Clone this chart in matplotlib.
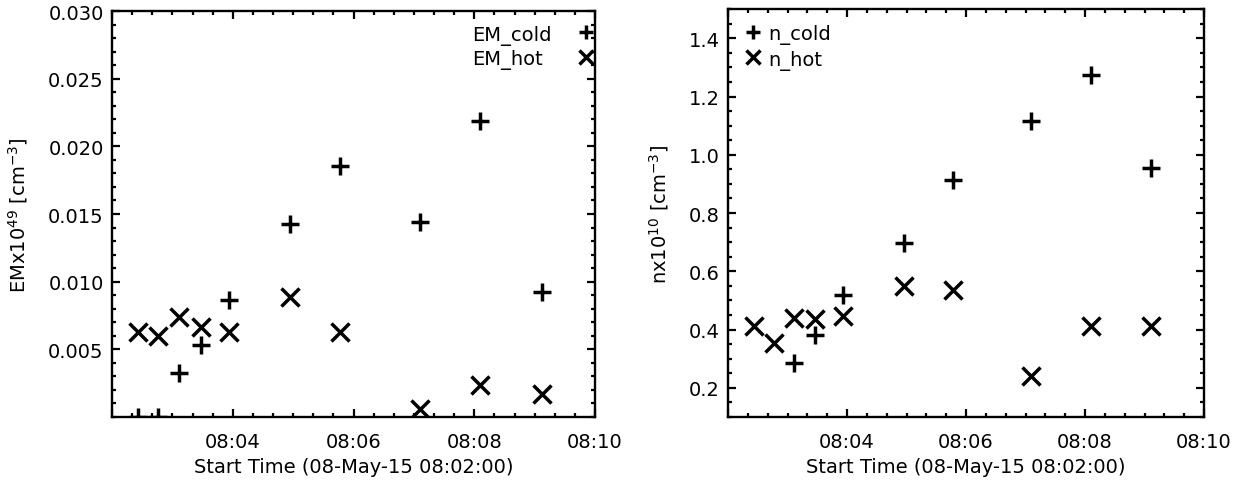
import numpy as np
import matplotlib
matplotlib.use('Agg')
import matplotlib.pyplot as plt
from matplotlib.ticker import MultipleLocator, FixedLocator, FuncFormatter

plt.rcParams['font.family'] = ['DejaVu Sans']

# seconds after 08:02:00
t_sec = [26, 46, 67, 88, 116, 177, 227, 306, 366, 427]

em_cold = [0.0, 0.0, 0.00327, 0.00529, 0.00861, 0.01426, 0.01857, 0.01439, 0.02189, 0.00927]
em_hot = [0.00627, 0.00602, 0.00738, 0.00664, 0.00627, 0.00885, 0.00627, 0.00061, 0.00234, 0.00172]

n_cold = [0.0, 0.0, 0.285, 0.383, 0.520, 0.697, 0.914, 1.115, 1.275, 0.954]
n_hot = [0.411, 0.354, 0.440, 0.436, 0.448, 0.548, 0.537, 0.240, 0.411, 0.411]

start_h, start_m = 8, 2
xlabel = 'Start Time (08-May-15 08:02:00)'
fs = 14


def fmt_time(v, pos):
    if v <= 0:
        return ''
    tot = int(round(v)) + (start_h * 60 + start_m) * 60
    return '%02d:%02d' % (tot // 3600, (tot // 60) % 60)


def style_axes(ax):
    ax.set_xlim(0, 480)
    ax.xaxis.set_major_locator(MultipleLocator(120))
    ax.xaxis.set_minor_locator(MultipleLocator(20))
    ax.xaxis.set_major_formatter(FuncFormatter(fmt_time))
    ax.tick_params(which='both', direction='in', top=True, right=True,
                   width=1.6, labelsize=fs)
    ax.tick_params(which='major', length=5.5)
    ax.tick_params(which='minor', length=2.8)
    ax.tick_params(axis='x', which='major', pad=11)
    ax.tick_params(axis='y', which='major', pad=6)
    for s in ax.spines.values():
        s.set_linewidth(1.7)
    ax.set_xlabel(xlabel, fontsize=fs)


def legend_key(ax, x_mark, x_text, y, marker, label):
    # IDL-style legend: text left aligned, symbol in its own column
    ax.plot([x_mark], [y], marker=marker, color='black', markersize=10.5,
            markeredgewidth=2.5, linestyle='none', transform=ax.transAxes,
            clip_on=False)
    ax.text(x_text, y, label, transform=ax.transAxes, fontsize=fs,
            ha='left', va='center_baseline')


mk = dict(linestyle='none', color='black', markersize=12.5, markeredgewidth=2.5)

fig = plt.figure(figsize=(12.5, 4.81), dpi=100)

ax1 = fig.add_axes([0.0896, 0.131, 0.3864, 0.844])
ax1.plot(t_sec, em_cold, marker='+', **mk)
ax1.plot(t_sec, em_hot, marker='x', **mk)
ax1.set_ylim(0, 0.030)
ax1.yaxis.set_major_locator(FixedLocator([0.005, 0.010, 0.015, 0.020, 0.025, 0.030]))
ax1.yaxis.set_minor_locator(MultipleLocator(0.001))
ax1.yaxis.set_major_formatter(FuncFormatter(lambda v, p: '%.3f' % v))
style_axes(ax1)
ax1.set_ylabel(r'EMx10$^{49}$ [cm$^{-3}$]', fontsize=fs)
ax1.yaxis.set_label_coords(-0.170, 0.5)
ax1.xaxis.set_label_coords(0.5, -0.098)
legend_key(ax1, 0.981, 0.745, 0.948, '+', 'EM_cold')
legend_key(ax1, 0.981, 0.745, 0.887, 'x', 'EM_hot')

ax2 = fig.add_axes([0.5824, 0.131, 0.3808, 0.848])
ax2.plot(t_sec, n_cold, marker='+', **mk)
ax2.plot(t_sec, n_hot, marker='x', **mk)
ax2.set_ylim(0.1, 1.5)
ax2.yaxis.set_major_locator(FixedLocator([0.2, 0.4, 0.6, 0.8, 1.0, 1.2, 1.4]))
ax2.yaxis.set_minor_locator(MultipleLocator(0.05))
ax2.yaxis.set_major_formatter(FuncFormatter(lambda v, p: '%.1f' % v))
style_axes(ax2)
ax2.set_ylabel(r'nx10$^{10}$ [cm$^{-3}$]', fontsize=fs)
ax2.yaxis.set_label_coords(-0.12, 0.5)
ax2.xaxis.set_label_coords(0.5, -0.098)
legend_key(ax2, 0.0525, 0.084, 0.944, '+', 'n_cold')
legend_key(ax2, 0.0525, 0.084, 0.882, 'x', 'n_hot')

fig.savefig('out.png', dpi=100)
